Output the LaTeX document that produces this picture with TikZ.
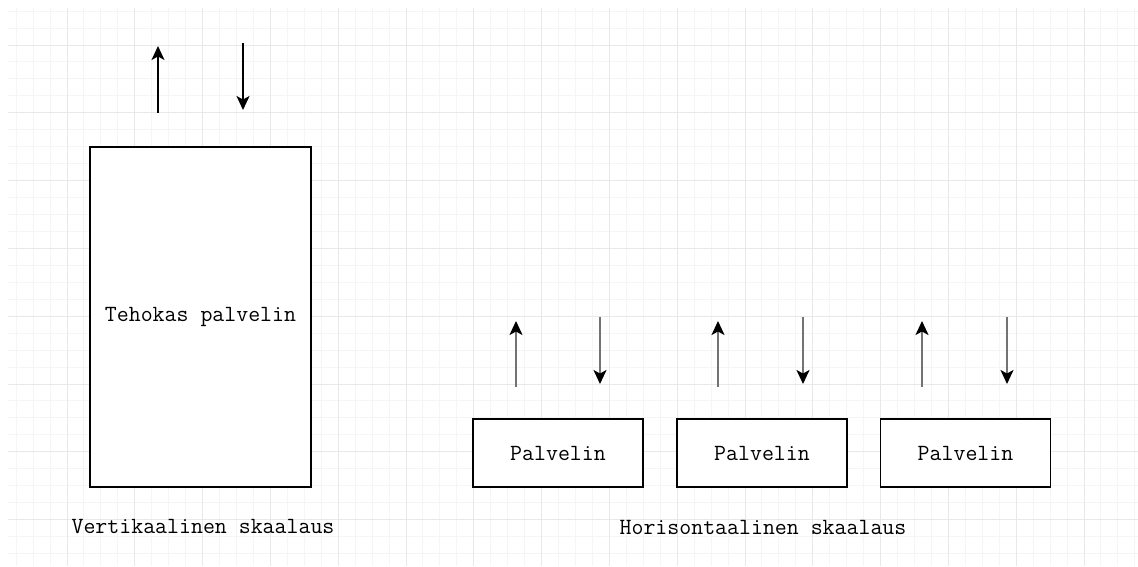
\documentclass[tikz,border=0pt]{standalone}
\usepackage{fontspec}
\usetikzlibrary{arrows.meta}
\begin{document}
\begin{tikzpicture}[x=1pt,y=-1pt,
  txt/.style={font=\ttfamily\fontsize{23.2}{25}\selectfont, text=black},
  box/.style={txt, draw=black, line width=1.6pt, fill=white, inner sep=0pt},
  caption/.style={txt, inner sep=0pt},
  flow/.style={line width=1.6pt, -{Stealth[length=14pt,width=13pt,inset=3.5pt]}},
  flowlight/.style={line width=1.8pt, draw=black!55, -{Stealth[length=14pt,width=13pt,inset=3.5pt,black]}},
  minorline/.style={draw=black!4, line width=1pt},
  majorline/.style={draw=black!9, line width=1pt}
]
\useasboundingbox (0,0) rectangle (1138,566);
\fill[white] (0,0) rectangle (1138,566);

% background grid
\begin{scope}
  \clip (8,8) rectangle (1138,566);
  \foreach \i in {0,...,68} {
    \draw[minorline] ({-0.8+16.95*\i},0) -- ({-0.8+16.95*\i},566);
  }
  \foreach \j in {-3,...,32} {
    \draw[minorline] (0,{45+16.95*\j}) -- (1138,{45+16.95*\j});
  }
  \foreach \i in {0,...,17} {
    \draw[majorline] ({-0.8+67.8*\i},0) -- ({-0.8+67.8*\i},566);
  }
  \foreach \j in {-1,...,8} {
    \draw[majorline] (0,{45+67.8*\j}) -- (1138,{45+67.8*\j});
  }
\end{scope}

% vertical scaling: one powerful server
\node[box, minimum width=221pt, minimum height=340pt] (big) at (200.5,317) {Tehokas palvelin};
\coordinate (bigUpS) at (158,113);
\coordinate (bigUpE) at (158,46);
\coordinate (bigDnS) at (243,43);
\coordinate (bigDnE) at (243,110);
\draw[flow] (bigUpS) -- (bigUpE);
\draw[flow] (bigDnS) -- (bigDnE);
\node[caption] (vlabel) at (203,527) {Vertikaalinen skaalaus};

% horizontal scaling: several servers
\foreach \n/\cx/\ux/\dx in {1/558/516/600, 2/762/718/803, 3/965.5/922/1007} {
  \node[box, minimum width=170pt, minimum height=68pt] (srv\n) at (\cx,453) {Palvelin};
  \coordinate (up\n S) at (\ux,387);
  \coordinate (up\n E) at (\ux,321);
  \coordinate (dn\n S) at (\dx,317);
  \coordinate (dn\n E) at (\dx,384);
  \draw[flowlight] (up\n S) -- (up\n E);
  \draw[flowlight] (dn\n S) -- (dn\n E);
}
\node[caption] (hlabel) at (763,527) {Horisontaalinen skaalaus};
\end{tikzpicture}
\end{document}
